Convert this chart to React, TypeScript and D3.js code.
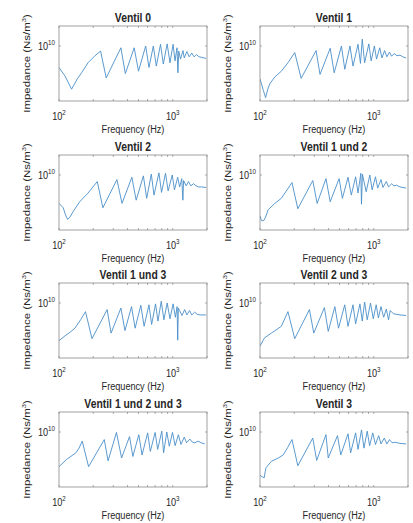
import React from 'react';
import * as d3 from 'd3';

// Impedance values in units of 1e9 Ns/m^3, paired with frequency in Hz
const ventil0: [number, number][] = [[100,6.1],[113,5.0],[129,3.7],[145,4.7],[158,5.4],[180,6.8],[205,7.9],[232,8.9],[260,4.8],[350,9.6],[383,5.3],[458,9.6],[500,5.6],[578,10.0],[618,6.1],[675,10.0],[717,6.3],[781,10.4],[826,6.6],[893,10.5],[945,6.8],[1007,10.4],[1047,7.1],[1090,9.6],[1110,5.4],[1130,8.9],[1170,7.4],[1230,9.0],[1262,7.6],[1330,8.8],[1395,7.8],[1470,8.5],[1542,7.8],[1620,8.2],[1700,7.8],[1800,7.7],[1963,7.5]];
const ventil1: [number, number][] = [[100,4.7],[107,3.6],[112,3.05],[117,3.7],[122,4.2],[135,4.9],[154,5.6],[176,6.8],[202,8.6],[230,4.75],[311,9.0],[337,5.2],[414,9.5],[449,5.4],[520,10.0],[556,5.85],[618,10.0],[657,6.3],[727,10.4],[764,6.7],[792,11.7],[831,6.8],[905,10.5],[949,7.1],[1013,10.0],[1058,7.4],[1128,9.6],[1181,7.6],[1245,9.0],[1305,7.8],[1375,8.7],[1435,7.9],[1510,8.4],[1600,8.0],[1700,8.1],[1800,7.8],[1925,7.6]];
const ventil2: [number, number][] = [[100,5.2],[109,4.7],[114,4.0],[119,3.6],[125,3.8],[133,4.3],[152,5.4],[180,6.6],[217,8.6],[243,4.7],[323,9.0],[358,5.2],[437,9.5],[477,5.6],[552,9.8],[590,5.85],[648,10.2],[684,6.3],[756,10.5],[797,6.7],[864,10.4],[910,6.95],[990,10.0],[1035,7.1],[1105,9.5],[1150,7.6],[1200,9.2],[1228,5.6],[1245,8.8],[1313,7.8],[1375,8.6],[1443,7.8],[1525,8.2],[1600,7.8],[1680,7.6],[1800,7.6],[1963,7.5]];
const ventil12: [number, number][] = [[100,3.9],[103,3.5],[108,3.5],[112,3.8],[118,4.5],[135,5.2],[154,5.85],[170,6.9],[191,8.4],[215,4.6],[291,8.8],[318,5.2],[380,9.2],[414,5.4],[496,9.2],[530,5.85],[594,9.5],[635,6.3],[693,9.6],[727,6.6],[770,10.4],[780,5.1],[795,10.2],[858,6.8],[923,10.0],[968,7.1],[1035,9.6],[1083,7.4],[1158,9.0],[1205,7.5],[1290,8.6],[1349,7.6],[1443,8.2],[1500,7.8],[1590,7.9],[1700,7.6],[1925,7.4]];
const ventil13: [number, number][] = [[100,4.2],[113,4.7],[125,5.1],[138,5.6],[155,6.8],[171,8.2],[195,4.4],[265,8.6],[287,5.0],[350,8.9],[380,5.3],[434,9.2],[467,5.6],[524,9.5],[560,5.85],[618,9.6],[652,6.1],[706,9.8],[741,6.6],[792,10.4],[836,6.8],[893,10.0],[945,6.95],[1007,9.8],[1055,7.2],[1092,9.2],[1105,4.25],[1120,8.9],[1150,8.4],[1205,7.5],[1273,8.6],[1330,7.6],[1405,8.4],[1470,7.6],[1558,8.1],[1640,7.7],[1735,7.6],[1963,7.6]];
const ventil23: [number, number][] = [[100,3.7],[106,4.2],[110,4.5],[126,5.0],[154,5.85],[176,8.2],[202,4.4],[272,8.6],[297,5.0],[368,9.0],[398,5.2],[455,9.2],[490,5.6],[556,9.6],[594,5.85],[657,9.6],[693,6.2],[756,9.8],[792,6.6],[831,10.2],[876,6.8],[936,10.0],[990,6.95],[1050,9.6],[1098,7.1],[1158,9.2],[1222,7.2],[1290,8.7],[1349,6.8],[1395,8.4],[1495,7.8],[1600,7.7],[1700,7.6],[1925,7.5]];
const ventil123: [number, number][] = [[100,4.5],[116,5.3],[141,6.2],[150,6.9],[160,8.1],[182,4.5],[250,8.4],[270,5.15],[320,9.9],[355,5.5],[417,9.0],[446,5.7],[503,9.4],[537,5.9],[602,9.8],[635,6.4],[700,9.9],[737,6.7],[801,10.2],[831,6.2],[886,10.0],[933,7.2],[995,9.9],[1050,7.3],[1120,9.4],[1181,7.5],[1262,8.9],[1323,7.8],[1415,8.5],[1490,7.9],[1560,7.8],[1670,8.1],[1780,7.8],[1910,7.6]];
const ventil3: [number, number][] = [[100,3.7],[105,3.55],[109,3.5],[111,4.0],[113,4.4],[126,5.1],[145,5.5],[160,5.9],[175,7.0],[191,8.4],[215,4.6],[291,8.7],[315,5.2],[380,9.4],[398,5.5],[480,9.2],[513,5.9],[594,9.6],[626,6.2],[693,9.8],[727,6.7],[781,10.5],[820,6.9],[876,10.2],[920,7.3],[980,9.8],[1035,7.5],[1105,9.2],[1158,7.6],[1237,8.7],[1305,7.6],[1375,8.4],[1450,7.8],[1542,7.9],[1700,7.7],[1925,7.6]];

const titles = ['Ventil 0', 'Ventil 1', 'Ventil 2', 'Ventil 1 und 2', 'Ventil 1 und 3', 'Ventil 2 und 3', 'Ventil 1 und 2 und 3', 'Ventil 3'];
const series = [ventil0, ventil1, ventil2, ventil12, ventil13, ventil23, ventil123, ventil3];

const freqDomain = [100, 2000];
const impDomain = [2.82e9, 1.585e10];
const freqMajor = [100, 1000];
const freqMajorExp = ['2', '3'];
const freqMinor = [200, 300, 400, 500, 600, 700, 800, 900, 2000];
const impMajor = [1e10];
const impMajorExp = ['10'];

const W = 413, H = 523;
const colLeft = [59, 260];
const rowTop = [26, 155, 283, 412];
const PW = 148, PH = 75;
const SX = 0.83;
const FONT = '"Liberation Sans", Arial, sans-serif';
const TXT = '#262626';
const AX = '#8a8a8a';
const LINE = '#4a8fc8';

function Panel({ idx }: { idx: number }) {
  const col = idx % 2, row = Math.floor(idx / 2);
  const left = colLeft[col], top = rowTop[row];
  const x = d3.scaleLog().domain(freqDomain).range([left, left + PW]);
  const y = d3.scaleLog().domain(impDomain).range([top + PH, top]);
  const line = d3.line<[number, number]>().x(d => x(d[0])).y(d => y(d[1] * 1e9));
  const clipId = `clip${idx}`;
  const tl = 2;
  return (
    <g>
      <defs>
        <clipPath id={clipId}><rect x={left} y={top} width={PW} height={PH} /></clipPath>
      </defs>
      <rect x={left} y={top} width={PW} height={PH} fill="white" />
      <path d={line(series[idx]) || ''} fill="none" stroke={LINE} strokeWidth={0.9} clipPath={`url(#${clipId})`} />
      <rect x={left} y={top} width={PW} height={PH} fill="none" stroke={AX} strokeWidth={0.8} />
      {[...freqMajor, ...freqMinor].map((f, i) => (
        <g key={'xt' + i} stroke={AX} strokeWidth={0.7}>
          <line x1={x(f)} x2={x(f)} y1={top + PH} y2={top + PH - tl} />
          <line x1={x(f)} x2={x(f)} y1={top} y2={top + tl} />
        </g>
      ))}
      {impMajor.map((v, i) => (
        <g key={'yt' + i} stroke={AX} strokeWidth={0.7}>
          <line x1={left} x2={left + tl} y1={y(v)} y2={y(v)} />
          <line x1={left + PW} x2={left + PW - tl} y1={y(v)} y2={y(v)} />
        </g>
      ))}
      {freqMajor.map((f, i) => (
        <text key={'xl' + i} transform={`translate(${x(f)},${top + PH + 19}) scale(${SX},1)`} textAnchor="middle" fontSize={11} fill={TXT} fontFamily={FONT}>
          <tspan>10</tspan><tspan dy={-5} fontSize={7.5}>{freqMajorExp[i]}</tspan>
        </text>
      ))}
      {impMajor.map((v, i) => (
        <text key={'yl' + i} transform={`translate(${left - 4},${y(v) + 4}) scale(${SX},1)`} textAnchor="end" fontSize={11} fill={TXT} fontFamily={FONT}>
          <tspan>10</tspan><tspan dy={-5} fontSize={7.5}>{impMajorExp[i]}</tspan>
        </text>
      ))}
      <text transform={`translate(${left + PW / 2},${top - 4.5}) scale(${SX},1)`} textAnchor="middle" fontSize={12.5} fontWeight="bold" fill={TXT} fontFamily={FONT}>{titles[idx]}</text>
      <text transform={`translate(${left + PW / 2},${top + PH + 32}) scale(${SX},1)`} textAnchor="middle" fontSize={11} fill={TXT} fontFamily={FONT}>Frequency (Hz)</text>
      <text transform={`translate(${left - 29},${top + PH / 2}) scale(${SX},1) rotate(-90)`} textAnchor="middle" fontSize={11.5} fill={TXT} fontFamily={FONT}>
        <tspan>Impedance (Ns/m</tspan><tspan dy={-5} fontSize={7.5}>3</tspan><tspan dy={5}>)</tspan>
      </text>
    </g>
  );
}

export default function App() {
  return (
    <svg width={W} height={H} style={{ position: 'absolute', left: 0, top: 0, background: 'white' }}>
      <rect x={0} y={0} width={W} height={H} fill="white" />
      {series.map((_, i) => <Panel key={i} idx={i} />)}
    </svg>
  );
}
